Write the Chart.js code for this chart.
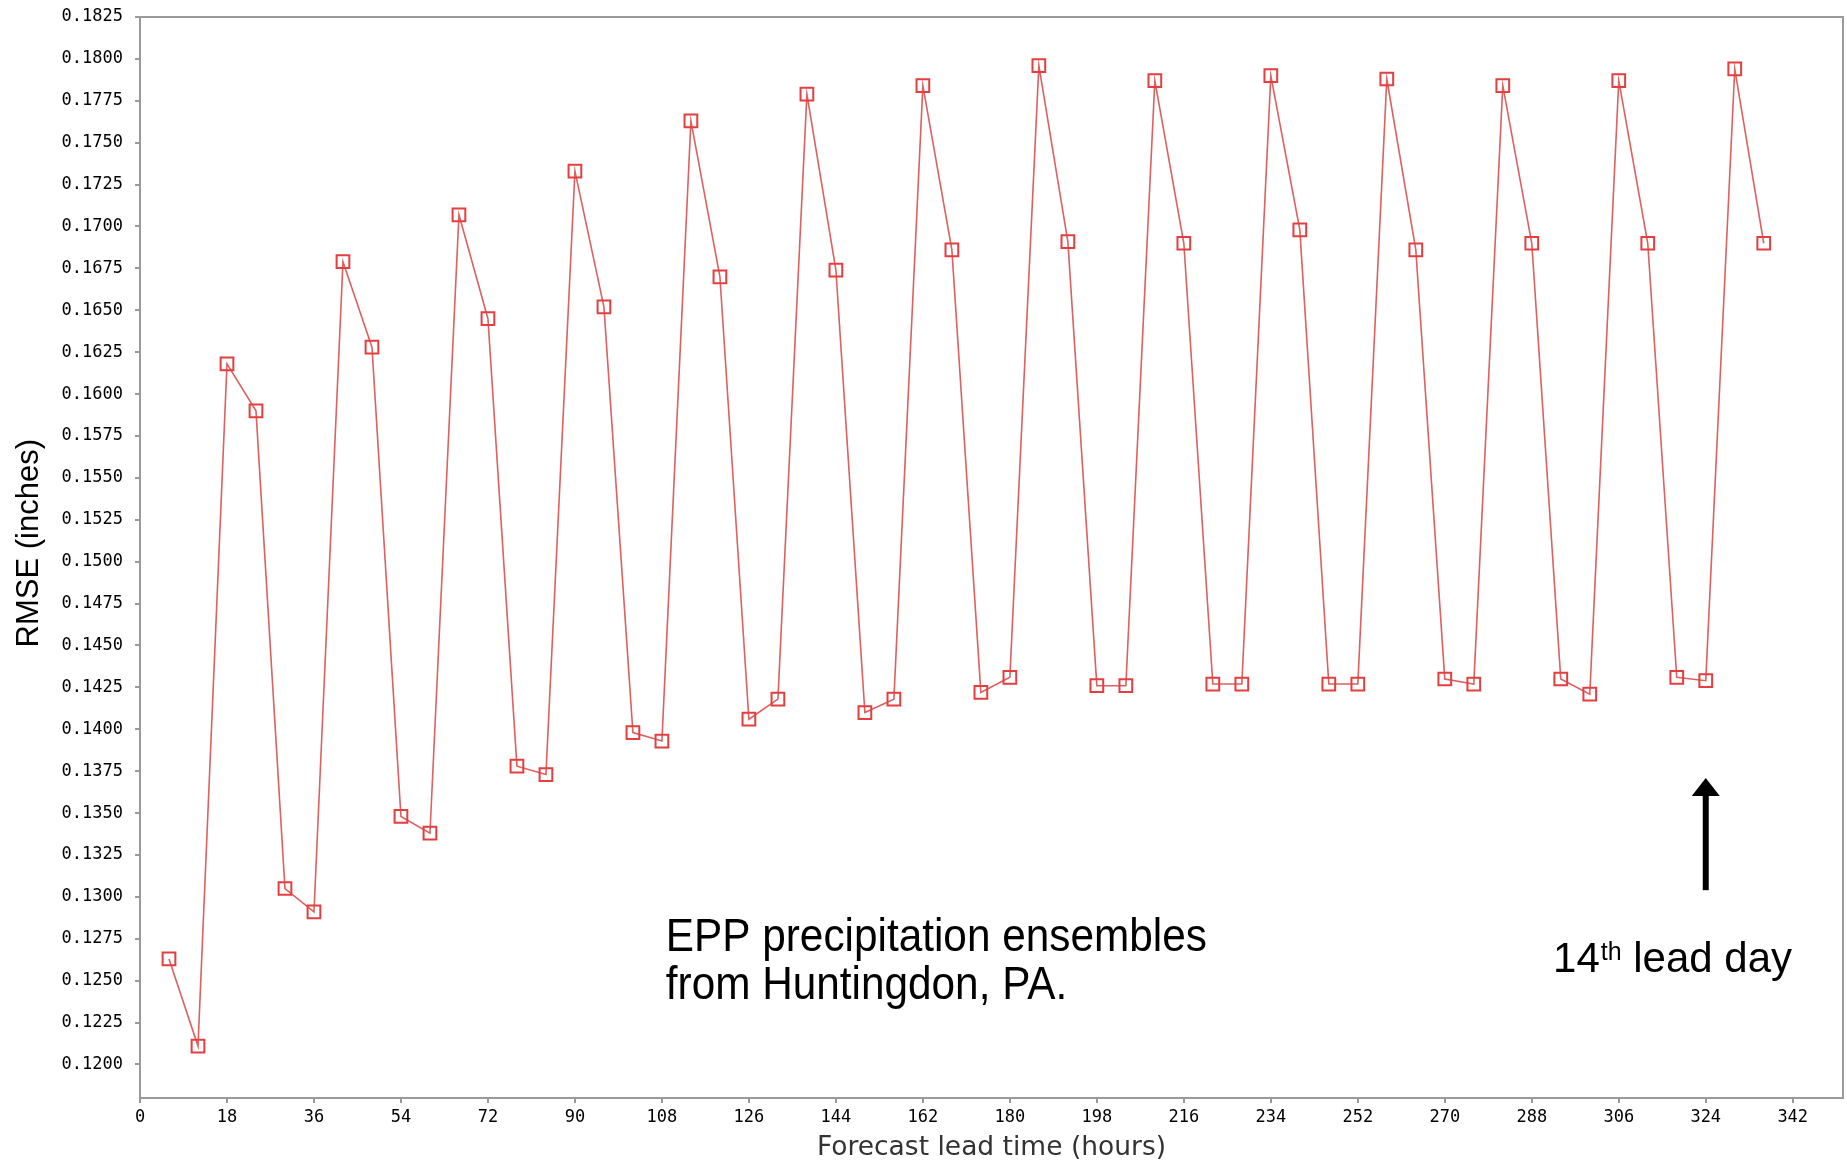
<!DOCTYPE html>
<html>
<head>
<meta charset="utf-8">
<title>EPP RMSE vs lead time</title>
<script src="https://cdn.jsdelivr.net/npm/chart.js@4.4.1/dist/chart.umd.min.js"></script>
<style>
  html, body { margin: 0; padding: 0; background: #fff; overflow: hidden; }
  #wrap { width: 1847px; height: 1161px; position: relative; }
</style>
</head>
<body>
<div id="wrap"><canvas id="rmseChart"></canvas></div>
<script>
// forecast lead time (hours) of each point
const leadHours = [6, 12, 18, 24, 30, 36, 42, 48, 54, 60, 66, 72, 78, 84, 90, 96,
  102, 108, 114, 120, 126, 132, 138, 144, 150, 156, 162, 168, 174, 180, 186, 192,
  198, 204, 210, 216, 222, 228, 234, 240, 246, 252, 258, 264, 270, 276, 282, 288,
  294, 300, 306, 312, 318, 324, 330, 336];

// RMSE (inches)
const rmseValues = [0.1263, 0.1211, 0.1618, 0.1590, 0.1305, 0.1291, 0.1679, 0.1628,
  0.1348, 0.1338, 0.1707, 0.1645, 0.1378, 0.1373, 0.1733, 0.1652,
  0.1398, 0.1393, 0.1763, 0.1670, 0.1406, 0.1418, 0.1779, 0.1674,
  0.1410, 0.1418, 0.1784, 0.1686, 0.1422, 0.1431, 0.1796, 0.1691,
  0.1426, 0.1426, 0.1787, 0.1690, 0.1427, 0.1427, 0.1790, 0.1698,
  0.1427, 0.1427, 0.1788, 0.1686, 0.1430, 0.1427, 0.1784, 0.1690,
  0.1430, 0.1421, 0.1787, 0.1690, 0.1431, 0.1429, 0.1794, 0.1690];

// axis ranges / tick spacing
const xRange = [0, 352.4];
const xStep = 18;
const yRange = [0.1180, 0.1825];
const yStep = 0.0025;

// annotations, anchored in data units
const noteLines = ['EPP precipitation ensembles', 'from Huntingdon, PA.'];
const noteAt = { x: 108.8, y: [0.12675, 0.12390] };
const arrowAt = { x: 324, from: 0.1304, to: 0.1371 };
const dayNoteAt = { x: 292.4, y: 0.12549 };
const yTitleAt = 0.1511;

const tickFont = { family: '"DejaVu Sans Mono", monospace', size: 17 };

function drawScaledText(ctx, str, px, py, font, sx) {
  ctx.save();
  ctx.translate(px, py);
  ctx.scale(sx, 1);
  ctx.font = font;
  ctx.fillText(str, 0, 0);
  const w = ctx.measureText(str).width * sx;
  ctx.restore();
  return w;
}

const overlay = {
  id: 'overlay',
  afterDraw(chart) {
    const { ctx, chartArea: a, scales: { x, y } } = chart;
    ctx.save();

    // plot frame
    ctx.strokeStyle = '#9a9a9a';
    ctx.lineWidth = 2;
    ctx.strokeRect(a.left, a.top, a.right - a.left, a.bottom - a.top);

    ctx.fillStyle = '#000';
    ctx.textAlign = 'left';
    ctx.textBaseline = 'alphabetic';

    // main note
    const nx = x.getPixelForValue(noteAt.x);
    noteLines.forEach((line, i) => {
      drawScaledText(ctx, line, nx, y.getPixelForValue(noteAt.y[i]), '46px "Liberation Sans", Arial', 0.92);
    });

    // arrow
    const ax = x.getPixelForValue(arrowAt.x);
    const ay0 = y.getPixelForValue(arrowAt.from);
    const ay1 = y.getPixelForValue(arrowAt.to);
    ctx.strokeStyle = '#000';
    ctx.lineWidth = 6;
    ctx.beginPath();
    ctx.moveTo(ax, ay0);
    ctx.lineTo(ax, ay1 + 16);
    ctx.stroke();
    ctx.beginPath();
    ctx.moveTo(ax, ay1);
    ctx.lineTo(ax - 14, ay1 + 18);
    ctx.lineTo(ax + 14, ay1 + 18);
    ctx.closePath();
    ctx.fill();

    // 14th lead day
    let dx = x.getPixelForValue(dayNoteAt.x);
    const dy = y.getPixelForValue(dayNoteAt.y);
    dx += drawScaledText(ctx, '14', dx, dy, '42px "Liberation Sans", Arial', 1.0);
    dx += drawScaledText(ctx, 'th', dx + 1, dy - 12, '25px "Liberation Sans", Arial', 1.0) + 1;
    drawScaledText(ctx, ' lead day', dx, dy, '42px "Liberation Sans", Arial', 1.0);

    // y axis title
    ctx.translate(29, y.getPixelForValue(yTitleAt));
    ctx.rotate(-Math.PI / 2);
    ctx.textAlign = 'center';
    ctx.textBaseline = 'middle';
    ctx.font = '31px "Liberation Sans", Arial';
    ctx.fillText('RMSE (inches)', 0, 0);

    ctx.restore();
  }
};

const ctxRmse = document.getElementById('rmseChart').getContext('2d');
const rmseChart = new Chart(ctxRmse, {
  type: 'line',
  data: {
    datasets: [{
      label: 'RMSE',
      data: leadHours.map((h, i) => ({ x: h, y: rmseValues[i] })),
      borderColor: 'rgb(222, 96, 96)',
      borderWidth: 1.6,
      tension: 0,
      fill: false,
      pointStyle: 'rect',
      pointRadius: 9,
      pointBorderWidth: 2,
      pointBorderColor: 'rgb(228, 62, 62)',
      pointBackgroundColor: 'rgba(0,0,0,0)'
    }]
  },
  options: {
    responsive: true,
    maintainAspectRatio: false,
    animation: false,
    devicePixelRatio: 1,
    layout: { autoPadding: false, padding: { top: 17, right: 4, left: 0, bottom: 0 } },
    plugins: {
      legend: { display: false },
      tooltip: { enabled: false }
    },
    scales: {
      x: {
        type: 'linear',
        min: xRange[0],
        max: xRange[1],
        afterFit: (scale) => {
          scale.height = 63;
          scale.paddingLeft = 0;
          scale.paddingRight = 0;
        },
        border: { color: '#9a9a9a', width: 2 },
        grid: { drawOnChartArea: false, drawTicks: true, tickLength: 5, color: '#9a9a9a', lineWidth: 2 },
        ticks: {
          stepSize: xStep,
          includeBounds: false,
          autoSkip: false,
          maxRotation: 0,
          padding: 4,
          color: '#000',
          font: tickFont,
          callback: (v) => String(v)
        },
        title: {
          display: true,
          text: 'Forecast lead time (hours)',
          color: '#333',
          font: { family: '"DejaVu Sans", sans-serif', size: 26.5, lineHeight: 1.0 },
          padding: { top: 0, bottom: 0 }
        }
      },
      y: {
        type: 'linear',
        min: yRange[0],
        max: yRange[1],
        afterFit: (scale) => {
          scale.width = 140;
          scale.paddingTop = 0;
          scale.paddingBottom = 0;
        },
        border: { color: '#9a9a9a', width: 2 },
        grid: { drawOnChartArea: false, drawTicks: true, tickLength: 5, color: '#9a9a9a', lineWidth: 2 },
        ticks: {
          stepSize: yStep,
          includeBounds: false,
          autoSkip: false,
          padding: 12,
          color: '#000',
          font: tickFont,
          callback: (v) => Number(v).toFixed(4)
        }
      }
    }
  },
  plugins: [overlay]
});
</script>
</body>
</html>
